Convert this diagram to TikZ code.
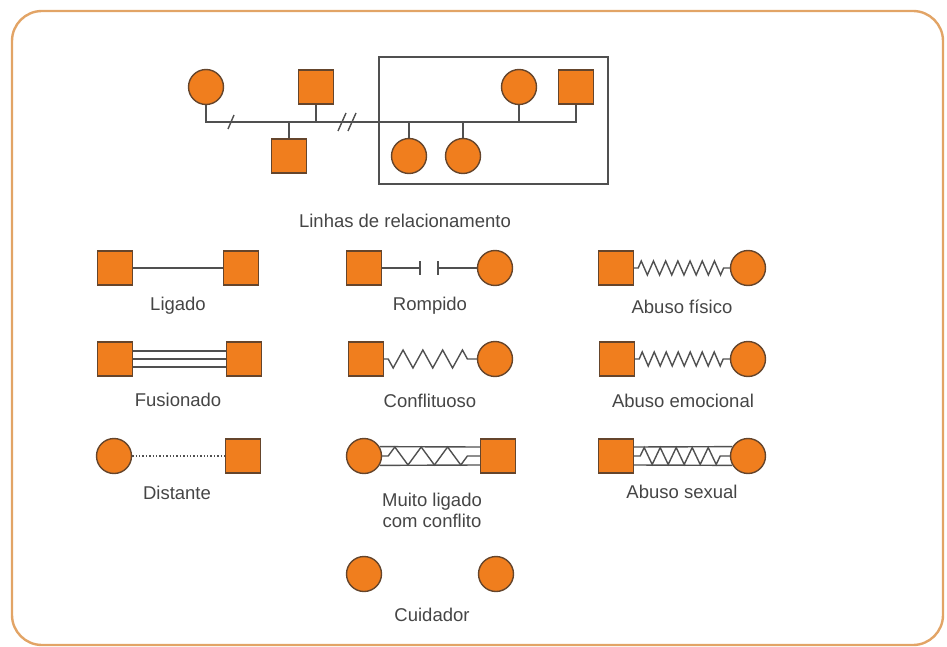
\documentclass[tikz,border=0pt]{standalone}
\usepackage{fontspec}
\setmainfont{Liberation Sans}
\usetikzlibrary{decorations.pathmorphing}
\definecolor{laranja}{HTML}{F07E1E}
\definecolor{contorno}{HTML}{65452C}
\definecolor{traco}{HTML}{505050}
\definecolor{texto}{HTML}{454545}
\definecolor{moldura}{HTML}{E2A466}
\begin{document}
\begin{tikzpicture}[x=1pt,y=-1pt]

    \tikzset{
      homem/.style={
        draw = {contorno},
        fill = {laranja},
        line width = 1.4,
        rectangle,
        inner sep=0pt,
        minimum width=35pt,
        minimum height=34pt,
      },
      mulher/.style={
        draw = {contorno},
        fill = {laranja},
        line width = 1.4,
        circle,
        inner sep=0pt,
        minimum size=35pt,
      },
      linha/.style={color = {traco}, line width = 1.4},
      zigue/.style={linha, decorate, decoration={zigzag, segment length=#1, amplitude=7, pre length=4, post length=4}},
      rotulo/.style={text = {texto}, font=\fontsize{18.5}{21}\selectfont, anchor = center, align = center},
    }
	\useasboundingbox (0,0) rectangle (947,647);
	\draw[color = {moldura}, line width = 2.4, rounded corners = 30] (12,11) rectangle (943,645);

	% linhas de relacionamento
	\node[draw = {traco}, line width = 1.5, minimum width = 229pt, minimum height = 127pt] (nucleo) at (493.5,120.5) {};
	\node[mulher] (m1) at (206,87) {};
	\node[homem] (h1) at (316,87) {};
	\node[homem] (h2) at (289,156) {};
	\node[mulher] (m2) at (409,156) {};
	\node[mulher] (m3) at (463,156) {};
	\node[mulher] (m4) at (519,87) {};
	\node[homem] (h3) at (576,87) {};
	\coordinate (fim) at (576,122);
	\coordinate (s1) at (231,122);
	\coordinate (s2) at (342,122);
	\coordinate (s3) at (352,122);
	\draw[linha] (m1.south) |- (fim) -- (h3.south);
	\draw[linha] (h1.south) -- (h1.south |- fim);
	\draw[linha] (m4.south) -- (m4.south |- fim);
	\draw[linha] (h2.north) -- (h2.north |- fim);
	\draw[linha] (m2.north) -- (m2.north |- fim);
	\draw[linha] (m3.north) -- (m3.north |- fim);
	\draw[linha] ([shift={(-3,7)}]s1) -- ([shift={(3,-7)}]s1);
	\draw[linha] ([shift={(-4,9)}]s2) -- ([shift={(4,-9)}]s2);
	\draw[linha] ([shift={(-4,9)}]s3) -- ([shift={(4,-9)}]s3);
	\node[rotulo] (lrel) at (405,221) {Linhas de relacionamento};

	% ligado
	\node[homem] (lig1) at (115,268) {};
	\node[homem] (lig2) at (241,268) {};
	\draw[linha] (lig1.east) -- (lig2.west);
	\node[rotulo] (llig) at (178,306) {Ligado};

	% rompido
	\node[homem] (rom1) at (364,268) {};
	\node[mulher] (rom2) at (495,268) {};
	\coordinate (r1) at (420,268);
	\coordinate (r2) at (438,268);
	\draw[linha] (rom1.east) -- (r1);
	\draw[linha] (r2) -- (rom2.west);
	\draw[linha] ([yshift=7pt]r1) -- ([yshift=-7pt]r1);
	\draw[linha] ([yshift=7pt]r2) -- ([yshift=-7pt]r2);
	\node[rotulo] (lrom) at (430,306) {Rompido};

	% abuso fisico
	\node[homem] (af1) at (616,268) {};
	\node[mulher] (af2) at (748,268) {};
	\draw[zigue=12.2] (af1.east) -- (af2.west);
	\node[rotulo] (laf) at (682,307) {Abuso físico};

	% fusionado
	\node[homem] (fus1) at (115,359) {};
	\node[homem] (fus2) at (244,359) {};
	\draw[linha] (fus1.east) -- (fus2.west);
	\draw[linha] ([yshift=8pt]fus1.east) -- ([yshift=8pt]fus2.west);
	\draw[linha] ([yshift=-8pt]fus1.east) -- ([yshift=-8pt]fus2.west);
	\node[rotulo] (lfus) at (178,400) {Fusionado};

	% conflituoso
	\node[homem] (con1) at (366,359) {};
	\node[mulher] (con2) at (495,359) {};
	\draw[zigue=19.8, decoration={amplitude=-9}] (con1.east) -- (con2.west);
	\node[rotulo] (lcon) at (430,401) {Conflituoso};

	% abuso emocional
	\node[homem] (ae1) at (617,359) {};
	\node[mulher] (ae2) at (748,359) {};
	\draw[zigue=12] (ae1.east) -- (ae2.west);
	\node[rotulo] (lae) at (683,401) {Abuso emocional};

	% distante
	\node[mulher] (dis1) at (114,456) {};
	\node[homem] (dis2) at (243,456) {};
	\draw[linha, dotted, line width = 1.6] (dis1.east) -- (dis2.west);
	\node[rotulo] (ldis) at (177,493) {Distante};

	% muito ligado com conflito
	\node[mulher] (mlc1) at (364,456) {};
	\node[homem] (mlc2) at (498,456) {};
	\draw[linha] (mlc1.31) -- ([yshift=9pt]mlc2.west);
	\draw[linha] (mlc1.-31) -- ([yshift=-9pt]mlc2.west);
	\draw[zigue=26.4, decoration={amplitude=9, pre length=6, post length=6}] (mlc1.east) -- (mlc2.west);
	\node[rotulo] (lmlc) at (432,510) {Muito ligado\\com conflito};

	% abuso sexual
	\node[homem] (as1) at (616,456) {};
	\node[mulher] (as2) at (748,456) {};
	\draw[linha] ([yshift=9pt]as1.east) -- (as2.149);
	\draw[linha] ([yshift=-9pt]as1.east) -- (as2.-149);
	\draw[zigue=16, decoration={amplitude=8.5, pre length=6, post length=6}] (as1.east) -- (as2.west);
	\node[rotulo] (las) at (682,492) {Abuso sexual};

	% cuidador
	\node[mulher] (cui1) at (364,574) {};
	\node[mulher] (cui2) at (496,574) {};
	\node[rotulo] (lcui) at (432,615) {Cuidador};

\end{tikzpicture}
\end{document}
